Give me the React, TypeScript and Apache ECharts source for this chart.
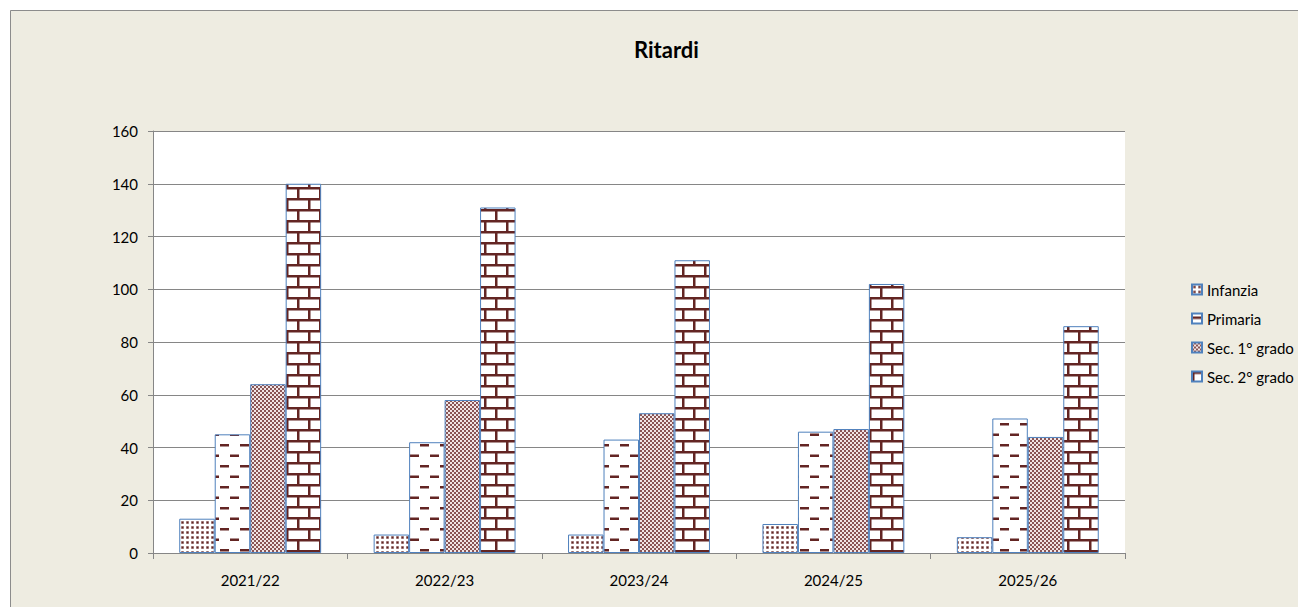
import React, { useEffect, useRef } from "react";
import * as echarts from "echarts";

const categories = ["2021/22", "2022/23", "2023/24", "2024/25", "2025/26"];
const seriesNames = ["Infanzia", "Primaria", "Sec. 1° grado", "Sec. 2° grado"];
const infanzia = [13, 7, 7, 11, 6];
const primaria = [45, 42, 43, 46, 51];
const sec1 = [64, 58, 53, 47, 44];
const sec2 = [140, 131, 111, 102, 86];
const yTicks = { min: 0, max: 160, interval: 20 };

const MAROON = "#632523";
const BORDER = "#4F81BD";
const BEIGE = "#EEECE1";
const FONT = "Lato, 'Noto Sans', sans-serif";

function makeCanvas(w: number, h: number, draw: (c: CanvasRenderingContext2D) => void) {
  const cv = document.createElement("canvas");
  cv.width = w;
  cv.height = h;
  const ctx = cv.getContext("2d")!;
  ctx.fillStyle = "#ffffff";
  ctx.fillRect(0, 0, w, h);
  draw(ctx);
  return { image: cv, repeat: "repeat", imageWidth: w, imageHeight: h } as any;
}

function patterns() {
  const dots = makeCanvas(5, 5, (c) => {
    c.fillStyle = "#c9b3b3";
    c.fillRect(1, 1, 3, 3);
    c.fillStyle = MAROON;
    c.fillRect(1.5, 1.5, 2, 2);
  });
  const dashes = makeCanvas(20, 21, (c) => {
    c.fillStyle = MAROON;
    c.fillRect(0, 3, 9, 2.5);
    c.fillRect(10, 13.5, 9, 2.5);
  });
  const checker = makeCanvas(4, 4, (c) => {
    c.fillStyle = "#8a5555";
    c.fillRect(0, 0, 4, 4);
    c.fillStyle = "#f2e6e6";
    c.fillRect(0, 0, 2, 2);
    c.fillRect(2, 2, 2, 2);
  });
  const bricks = makeCanvas(22, 22, (c) => {
    c.fillStyle = MAROON;
    c.fillRect(0, 0, 22, 2.5);
    c.fillRect(0, 11, 22, 2.5);
    c.fillRect(0, 0, 2.5, 11);
    c.fillRect(11, 11, 2.5, 11);
  });
  return [dots, dashes, checker, bricks];
}

export default function App() {
  const ref = useRef<HTMLDivElement>(null);
  useEffect(() => {
    if (!ref.current) return;
    document.documentElement.style.overflow = "hidden";
    document.body.style.margin = "0";
    document.body.style.overflow = "hidden";
    document.body.style.background = BEIGE;
    const chart = echarts.init(ref.current, undefined, { renderer: "svg" });
    const pats = patterns();
    const data = [infanzia, primaria, sec1, sec2];
    chart.setOption({
      animation: false,
      backgroundColor: BEIGE,
      graphic: [
        { type: "rect", silent: true, z: -10, shape: { x: 0, y: 0, width: 1400, height: 10 }, style: { fill: "#ffffff" } },
        { type: "rect", silent: true, z: -10, shape: { x: 0, y: 0, width: 10, height: 700 }, style: { fill: "#ffffff" } },
        { type: "line", silent: true, z: -9, shape: { x1: 10.5, y1: 10.5, x2: 1400, y2: 10.5 }, style: { stroke: "#8c8c8c", lineWidth: 1 } },
        { type: "line", silent: true, z: -9, shape: { x1: 10.5, y1: 10.5, x2: 10.5, y2: 700 }, style: { stroke: "#8c8c8c", lineWidth: 1 } },
      ],
      title: {
        text: "Ritardi",
        left: 629,
        top: 33,
        textStyle: { fontFamily: FONT, fontSize: 22, fontWeight: "bold", color: "#000" },
      },
      legend: {
        orient: "vertical",
        left: 1186,
        top: 277,
        itemWidth: 10,
        itemHeight: 10,
        itemGap: 14,
        icon: "rect",
        textStyle: { fontFamily: FONT, fontSize: 15, color: "#000", padding: [0, 0, 0, 0] },
        data: seriesNames,
      },
      grid: {
        left: 153,
        top: 131,
        width: 972,
        height: 422,
        show: true,
        backgroundColor: "#ffffff",
        borderWidth: 0,
        containLabel: false,
      },
      xAxis: {
        type: "category",
        data: categories,
        axisLine: { lineStyle: { color: "#868686", width: 1 } },
        axisTick: { show: true, length: 6, lineStyle: { color: "#868686" } },
        axisLabel: { fontFamily: FONT, fontSize: 15, color: "#000", margin: 19 },
      },
      yAxis: {
        type: "value",
        min: yTicks.min,
        max: yTicks.max,
        interval: yTicks.interval,
        axisLine: { show: true, lineStyle: { color: "#868686", width: 1 } },
        axisTick: { show: true, length: 5, lineStyle: { color: "#868686" } },
        splitLine: { lineStyle: { color: "#868686", width: 1 } },
        axisLabel: { fontFamily: FONT, fontSize: 15, color: "#000", margin: 15 },
      },
      series: seriesNames.map((name, i) => ({
        name,
        type: "bar",
        data: data[i],
        barGap: "0%",
        barCategoryGap: "27%",
        itemStyle: { color: pats[i], borderColor: BORDER, borderWidth: 1 },
      })),
    });
    return () => chart.dispose();
  }, []);
  return <div ref={ref} style={{ width: 1298, height: 607 }} />;
}
